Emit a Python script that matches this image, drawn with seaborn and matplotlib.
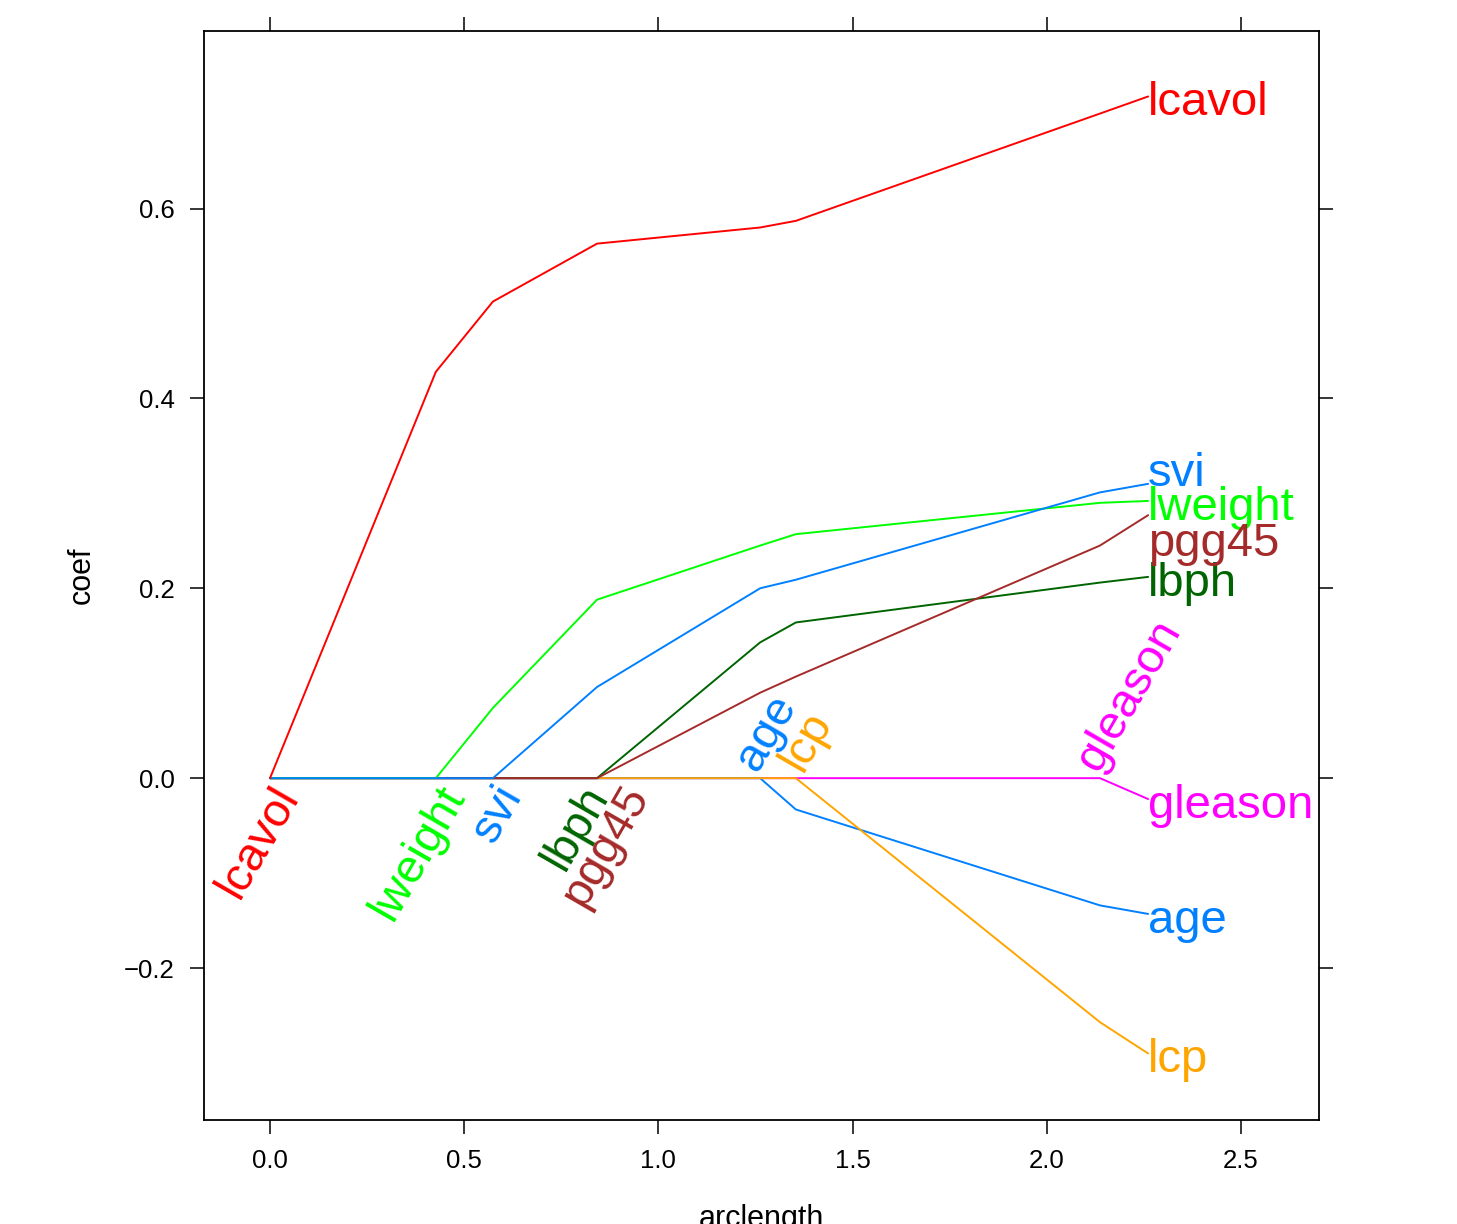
import matplotlib
matplotlib.use("Agg")
import matplotlib.pyplot as plt
import matplotlib.transforms as mtransforms
import numpy as np
import pandas as pd
import seaborn as sns

# LARS path breakpoints (arc length) and coefficients
arclength = [0.0, 0.427, 0.574, 0.842, 1.262, 1.354, 2.137, 2.261]

lcavol = [0.0, 0.428, 0.502, 0.563, 0.580, 0.587, 0.700, 0.718]
lweight = [0.0, 0.0, 0.074, 0.188, 0.245, 0.257, 0.290, 0.292]
age = [0.0, 0.0, 0.0, 0.0, 0.0, -0.033, -0.134, -0.143]
lbph = [0.0, 0.0, 0.0, 0.0, 0.143, 0.164, 0.206, 0.212]
svi = [0.0, 0.0, 0.0, 0.096, 0.200, 0.209, 0.301, 0.310]
lcp = [0.0, 0.0, 0.0, 0.0, 0.0, 0.0, -0.257, -0.290]
gleason = [0.0, 0.0, 0.0, 0.0, 0.0, 0.0, 0.0, -0.022]
pgg45 = [0.0, 0.0, 0.0, 0.0, 0.090, 0.107, 0.245, 0.277]

variables = ["lcavol", "lweight", "age", "lbph", "svi", "lcp", "gleason", "pgg45"]
coefs = {
    "lcavol": lcavol, "lweight": lweight, "age": age, "lbph": lbph,
    "svi": svi, "lcp": lcp, "gleason": gleason, "pgg45": pgg45,
}
colors = {
    "lcavol": "#FF0000", "lweight": "#00FF00", "age": "#0080FF", "lbph": "#006400",
    "svi": "#0080FF", "lcp": "#FFA500", "gleason": "#FF00FF", "pgg45": "#A52A2A",
}
draw_order = ["gleason", "age", "lcp", "lbph", "pgg45", "lweight", "svi", "lcavol"]
labels_above = ["age", "lcp", "gleason"]
end_label_nudge = {"svi": 0.018, "pgg45": -0.023}
# horizontal shifts (points) that keep crowded entry labels apart
entry_label_shift = {"lbph": -13, "pgg45": 16, "age": 4, "lcp": 11, "gleason": 5}

sns.set_theme(style="ticks")
plt.rcParams["font.family"] = ["Liberation Sans", "DejaVu Sans"]
plt.rcParams["text.color"] = "black"
plt.rcParams["axes.labelcolor"] = "black"
plt.rcParams["xtick.color"] = "black"
plt.rcParams["ytick.color"] = "black"

df = pd.DataFrame({
    "arclength": np.tile(arclength, len(variables)),
    "coef": np.concatenate([coefs[v] for v in variables]),
    "variable": np.repeat(variables, len(arclength)),
})

fig = plt.figure(figsize=(14.57, 12.24), dpi=100)
ax = fig.add_axes([0.140, 0.085, 0.7653, 0.8897])
sns.lineplot(
    data=df, x="arclength", y="coef", hue="variable", hue_order=draw_order,
    palette=colors, estimator=None, sort=False, linewidth=1.4, legend=False, ax=ax,
)

label_size = 34
end_shift = mtransforms.ScaledTranslation(0, -5 / 72, fig.dpi_scale_trans)
for v in variables:
    c = np.asarray(coefs[v])
    nonzero = np.flatnonzero(c != 0)
    x0 = arclength[max(nonzero[0] - 1, 0)]
    shift = mtransforms.ScaledTranslation(entry_label_shift.get(v, 0) / 72, 0, fig.dpi_scale_trans)
    if v in labels_above:
        ha, va = "left", "bottom"
    else:
        ha, va = "right", "top"
    ax.text(x0, 0, v, rotation=60, rotation_mode="anchor", ha=ha, va=va,
            color=colors[v], fontsize=label_size, transform=ax.transData + shift,
            clip_on=False)
    ax.text(arclength[-1], c[-1] + end_label_nudge.get(v, 0), v, ha="left",
            va="center", color=colors[v], fontsize=label_size,
            transform=ax.transData + end_shift)

ax.set_xlim(-0.170, 2.701)
ax.set_ylim(-0.360, 0.787)
ax.set_xticks([0.0, 0.5, 1.0, 1.5, 2.0, 2.5])
ax.set_yticks([-0.2, 0.0, 0.2, 0.4, 0.6])
ax.tick_params(direction="out", length=10, width=1.1, top=True, right=True,
               labeltop=False, labelright=False, labelsize=18.5, pad=11, color="black")
for spine in ax.spines.values():
    spine.set_visible(True)
    spine.set_linewidth(1.3)
    spine.set_color("black")
ax.set_xlabel("arclength", fontsize=22, labelpad=22)
ax.set_ylabel("coef", fontsize=22, labelpad=20)
ax.grid(False)

fig.savefig("out.png", dpi=100)
plt.close(fig)
